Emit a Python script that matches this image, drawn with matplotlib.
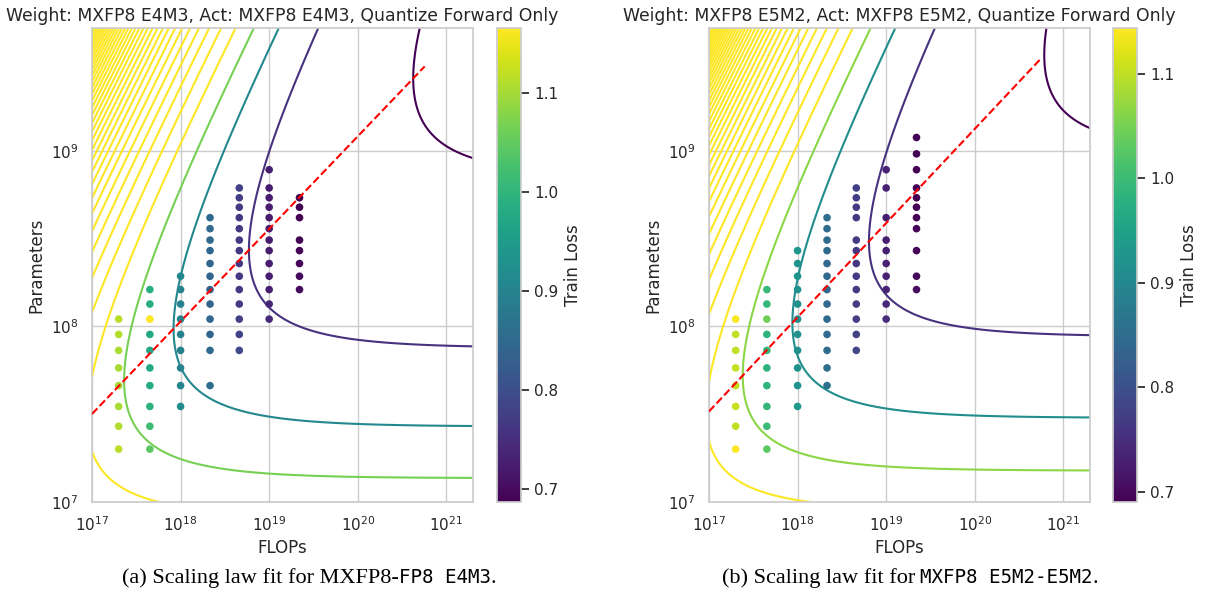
import numpy as np
import matplotlib
matplotlib.use("Agg")
import matplotlib.pyplot as plt
import seaborn as sns
from matplotlib.colors import Normalize
from matplotlib.offsetbox import TextArea, HPacker, AnchoredOffsetbox

sns.set_theme(style="whitegrid")
plt.rcParams['font.family'] = ['DejaVu Sans']

# ---------------- data ----------------
TITLES = ["Weight: MXFP8 E4M3, Act: MXFP8 E4M3, Quantize Forward Only",
          "Weight: MXFP8 E5M2, Act: MXFP8 E5M2, Quantize Forward Only"]

# compute budgets (FLOPs) of the iso-FLOP columns
BUDGETS = [2e17, 4.5e17, 1e18, 2.15e18, 4.6e18, 1e19, 2.2e19]

# ---- panel (a): E4M3 ----
E4M3_PARAMS = [
    [2.0e7, 2.7e7, 3.5e7, 4.6e7, 5.8e7, 7.3e7, 9.0e7, 1.1e8],
    [2.0e7, 2.7e7, 3.5e7, 4.6e7, 5.8e7, 7.3e7, 9.0e7, 1.1e8, 1.34e8, 1.62e8],
    [3.5e7, 4.6e7, 5.8e7, 7.3e7, 9.0e7, 1.1e8, 1.34e8, 1.62e8, 1.93e8],
    [4.6e7, 7.3e7, 9.0e7, 1.1e8, 1.34e8, 1.62e8, 1.93e8, 2.28e8, 2.7e8, 3.1e8, 3.6e8, 4.16e8],
    [7.3e7, 9.0e7, 1.1e8, 1.34e8, 1.62e8, 1.93e8, 2.28e8, 2.7e8, 3.1e8, 3.6e8, 4.16e8, 4.77e8, 5.4e8, 6.14e8],
    [1.1e8, 1.34e8, 1.62e8, 1.93e8, 2.28e8, 2.7e8, 3.1e8, 3.6e8, 4.16e8, 4.77e8, 5.4e8, 6.14e8, 7.8e8],
    [1.62e8, 1.93e8, 2.28e8, 2.7e8, 3.1e8, 4.16e8, 4.77e8, 5.4e8],
]
E4M3_LOSS = [
    [1.116, 1.108, 1.104, 1.102, 1.103, 1.106, 1.110, 1.114],
    [1.046, 1.017, 0.994, 0.982, 0.976, 0.975, 0.977, 1.166, 0.982, 0.990],
    [0.915, 0.905, 0.899, 0.896, 0.894, 0.895, 0.898, 0.903, 0.910],
    [0.860, 0.850, 0.846, 0.844, 0.842, 0.842, 0.842, 0.843, 0.845, 0.847, 0.850, 0.853],
    [0.790, 0.782, 0.776, 0.771, 0.768, 0.766, 0.765, 0.765, 0.766, 0.767, 0.769, 0.771, 0.774, 0.777],
    [0.740, 0.735, 0.730, 0.727, 0.725, 0.724, 0.723, 0.723, 0.723, 0.724, 0.725, 0.726, 0.729],
    [0.700, 0.697, 0.694, 0.692, 0.690, 0.688, 0.687, 0.688],
]
# fitted law  L = E + A/N^alpha + B/D^beta,  D = C/(6N)
E4M3_FIT = dict(E=0.5255, A=1995.0, alpha=0.500, B=22900.0, beta=0.557)

# ---- panel (b): E5M2 ----
E5M2_PARAMS = [
    [2.0e7, 2.7e7, 3.5e7, 4.6e7, 5.8e7, 7.3e7, 9.0e7, 1.1e8],
    [2.0e7, 2.7e7, 3.5e7, 4.6e7, 5.8e7, 7.3e7, 9.0e7, 1.1e8, 1.34e8, 1.62e8],
    [3.5e7, 4.6e7, 5.8e7, 7.3e7, 9.0e7, 1.1e8, 1.34e8, 1.62e8, 1.93e8, 2.28e8, 2.7e8],
    [4.6e7, 5.8e7, 7.3e7, 9.0e7, 1.1e8, 1.34e8, 1.62e8, 1.93e8, 2.28e8, 2.7e8, 3.1e8, 3.6e8, 4.16e8],
    [7.3e7, 9.0e7, 1.1e8, 1.34e8, 1.62e8, 1.93e8, 2.28e8, 2.7e8, 3.1e8, 4.16e8, 4.77e8, 5.4e8, 6.14e8],
    [1.1e8, 1.34e8, 1.62e8, 1.93e8, 2.28e8, 2.7e8, 3.1e8, 4.16e8, 6.14e8, 7.8e8],
    [1.62e8, 1.93e8, 2.7e8, 3.6e8, 4.16e8, 4.77e8, 5.4e8, 6.14e8, 7.8e8, 9.6e8, 1.19e9],
]
E5M2_LOSS = [
    [1.144, 1.100, 1.105, 1.100, 1.104, 1.100, 1.100, 1.140],
    [1.030, 1.000, 0.990, 0.985, 0.982, 0.990, 0.983, 1.045, 0.990, 0.995],
    [0.935, 0.925, 0.920, 0.917, 0.915, 0.915, 0.916, 0.918, 0.920, 0.924, 0.928],
    [0.860, 0.853, 0.848, 0.845, 0.843, 0.842, 0.841, 0.841, 0.842, 0.843, 0.845, 0.847, 0.850],
    [0.785, 0.778, 0.773, 0.770, 0.767, 0.765, 0.764, 0.764, 0.765, 0.767, 0.769, 0.772, 0.775],
    [0.745, 0.740, 0.736, 0.733, 0.731, 0.730, 0.729, 0.729, 0.731, 0.733],
    [0.705, 0.702, 0.697, 0.694, 0.693, 0.692, 0.691, 0.690, 0.690, 0.691, 0.693],
]
E5M2_FIT = dict(E=0.5352, A=2058.0, alpha=0.500, B=33470.0, beta=0.578)

CONTOUR_START, CONTOUR_STEP, CONTOUR_COUNT = 0.60, 0.155, 48
FLOP_RANGE = (1e17, 2e21)
PARAM_RANGE = (1e7, 5e9)
OPT_LINE_FLOPS = (1e17, 5.7e20)

CAPTIONS = [
    [("(a) Scaling law fit for MXFP8-", "serif"), ("FP8 E4M3", "mono"), (".", "serif")],
    [("(b) Scaling law fit for ", "serif"), ("MXFP8 E5M2-E5M2", "mono"), (".", "serif")],
]

# ---------------- figure ----------------
W, H = 1212, 608
fig = plt.figure(figsize=(W / 100, H / 100), dpi=100)

def fx(px):
    return px / W

def fy(py):
    return 1 - py / H

panels = [
    (TITLES[0], E4M3_PARAMS, E4M3_LOSS, E4M3_FIT, 92, 497),
    (TITLES[1], E5M2_PARAMS, E5M2_LOSS, E5M2_FIT, 709, 1113),
]
levels = CONTOUR_START + CONTOUR_STEP * np.arange(CONTOUR_COUNT)

top_px, bot_px = 28, 502
for i, (title, params, losses, fit, ax_x, cb_x) in enumerate(panels):
    ax = fig.add_axes([fx(ax_x), fy(bot_px), fx(381), (bot_px - top_px) / H])
    cax = fig.add_axes([fx(cb_x), fy(bot_px), fx(24), (bot_px - top_px) / H])

    xs, ys, cs = [], [], []
    for c, ns, ls in zip(BUDGETS, params, losses):
        xs += [c] * len(ns)
        ys += ns
        cs += ls
    norm = Normalize(vmin=min(cs), vmax=max(cs))

    Cg = np.logspace(np.log10(FLOP_RANGE[0]), np.log10(FLOP_RANGE[1]), 500)
    Ng = np.logspace(np.log10(PARAM_RANGE[0]), np.log10(PARAM_RANGE[1]), 500)
    CC, NN = np.meshgrid(Cg, Ng)
    DD = CC / (6 * NN)
    LL = fit['E'] + fit['A'] * NN ** (-fit['alpha']) + fit['B'] * DD ** (-fit['beta'])
    ax.contour(CC, NN, LL, levels=levels, cmap='viridis', norm=norm,
               linewidths=1.5, zorder=2)

    sc = ax.scatter(xs, ys, c=cs, cmap='viridis', norm=norm, s=30,
                    edgecolors='none', zorder=3)

    # compute-optimal line from the fit
    a, b = fit['alpha'], fit['beta']
    G = (a * fit['A'] / (b * fit['B'] * 6 ** b)) ** (1 / (a + b))
    cl = np.logspace(np.log10(OPT_LINE_FLOPS[0]), np.log10(OPT_LINE_FLOPS[1]), 50)
    ax.plot(cl, G * cl ** (b / (a + b)), color='red', ls='--', lw=1.5, zorder=4)

    ax.set_xscale('log')
    ax.set_yscale('log')
    ax.set_xlim(*FLOP_RANGE)
    ax.set_ylim(*PARAM_RANGE)
    ax.set_xlabel('FLOPs', fontsize=12)
    ax.set_ylabel('Parameters', fontsize=12)
    ax.tick_params(labelsize=11)
    ax.set_title(title, fontsize=12.4, pad=5)
    ax.grid(True, which='major', color='.8', lw=1)
    ax.grid(False, which='minor')

    cb = fig.colorbar(sc, cax=cax)
    cb.set_label('Train Loss', fontsize=12)
    cb.ax.tick_params(labelsize=11, right=True, length=6, width=1.25, color='.15')
    cb.outline.set_edgecolor('.8')
    cb.set_ticks([0.7, 0.8, 0.9, 1.0, 1.1])

# captions
cap_centers = [309, 910]
for parts, cx in zip(CAPTIONS, cap_centers):
    kids = []
    for txt, kind in parts:
        if kind == 'serif':
            tp = dict(family='Liberation Serif', size=16, color='black')
        else:
            tp = dict(family='DejaVu Sans Mono', size=13.8, color='black')
        kids.append(TextArea(txt, textprops=tp))
    box = HPacker(children=kids, align='baseline', pad=0, sep=0)
    anch = AnchoredOffsetbox(loc='center', child=box, pad=0, borderpad=0, frameon=False,
                             bbox_to_anchor=(fx(cx), fy(578)),
                             bbox_transform=fig.transFigure)
    fig.add_artist(anch)

fig.savefig('out.png', dpi=100)
